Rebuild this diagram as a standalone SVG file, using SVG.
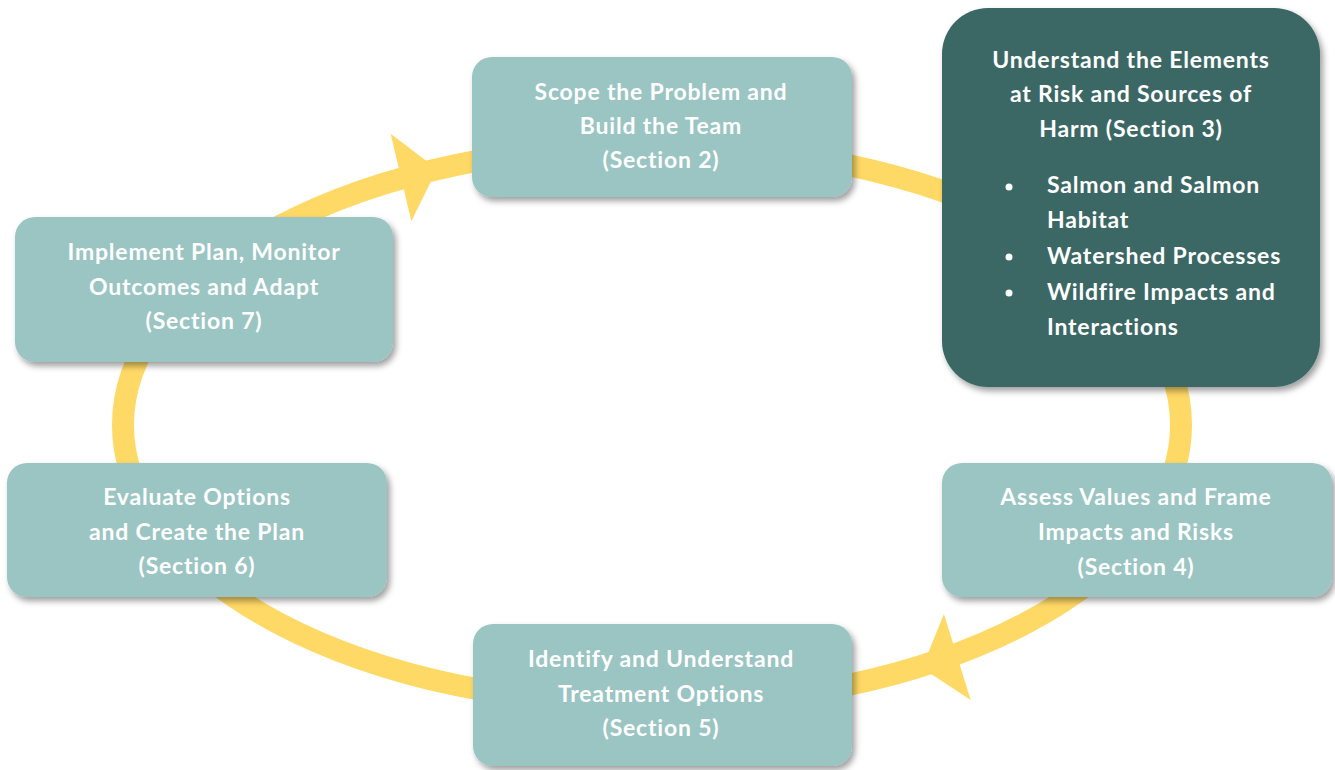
<svg xmlns="http://www.w3.org/2000/svg" width="1335" height="770" viewBox="0 0 1335 770">
  <defs>
    <filter id="shadow" x="-10%" y="-10%" width="125%" height="130%">
      <feDropShadow dx="3" dy="4" stdDeviation="3" flood-color="#000" flood-opacity="0.38"/>
    </filter>
    <!-- triangular arrowhead, tip at the origin pointing along +x -->
    <polygon id="head" points="0,0 -37,-45 -37,45"/>
  </defs>
  <style>
    .ring { fill: none; stroke: #FFD966; stroke-width: 22; }
    .head { fill: #FFD966; }
    .box { fill: #9AC5C3; filter: url(#shadow); }
    .box-dark { fill: #3B6865; filter: url(#shadow); }
    text { font-family: Lato, "Open Sans", "Liberation Sans", sans-serif; font-weight: 700; font-size: 23px; letter-spacing: 0.8px; fill: #FFFFFF; }
    .c { text-anchor: middle; }
  </style>
  <rect width="1335" height="770" fill="#FFFFFF"/>

  <!-- cycle ring with direction arrows -->
  <g id="connectors">
    <ellipse class="ring" cx="652" cy="425" rx="529" ry="280"/>
    <use href="#head" class="head" transform="translate(437,169) rotate(-13.3)"/>
    <use href="#head" class="head" transform="translate(922,668) rotate(162.7)"/>
  </g>

  <g id="scope">
    <rect class="box" x="472" y="57" width="380" height="140" rx="20"/>
    <text class="c" x="661" y="100">Scope the Problem and</text>
    <text class="c" x="661" y="134">Build the Team</text>
    <text class="c" x="661" y="168">(Section 2)</text>
  </g>

  <g id="understand">
    <rect class="box-dark" x="942" y="8" width="378" height="379" rx="46"/>
    <text class="c" x="1131" y="68">Understand the Elements</text>
    <text class="c" x="1131" y="102">at Risk and Sources of</text>
    <text class="c" x="1131" y="137">Harm (Section 3)</text>
    <circle cx="1009" cy="187" r="3.5" fill="#FFFFFF"/>
    <circle cx="1009" cy="257" r="3.5" fill="#FFFFFF"/>
    <circle cx="1009" cy="293" r="3.5" fill="#FFFFFF"/>
    <text x="1047" y="193">Salmon and Salmon</text>
    <text x="1047" y="228">Habitat</text>
    <text x="1047" y="264">Watershed Processes</text>
    <text x="1047" y="300">Wildfire Impacts and</text>
    <text x="1047" y="335">Interactions</text>
  </g>

  <g id="assess">
    <rect class="box" x="942" y="463" width="390" height="134" rx="20"/>
    <text class="c" x="1136" y="505">Assess Values and Frame</text>
    <text class="c" x="1136" y="540">Impacts and Risks</text>
    <text class="c" x="1136" y="575">(Section 4)</text>
  </g>

  <g id="identify">
    <rect class="box" x="473" y="624" width="379" height="142" rx="20"/>
    <text class="c" x="661" y="667">Identify and Understand</text>
    <text class="c" x="661" y="702">Treatment Options</text>
    <text class="c" x="661" y="736">(Section 5)</text>
  </g>

  <g id="evaluate">
    <rect class="box" x="7" y="463" width="380" height="134" rx="20"/>
    <text class="c" x="197" y="505">Evaluate Options</text>
    <text class="c" x="197" y="540">and Create the Plan</text>
    <text class="c" x="197" y="574">(Section 6)</text>
  </g>

  <g id="implement">
    <rect class="box" x="15" y="217" width="378" height="145" rx="20"/>
    <text class="c" x="204" y="260">Implement Plan, Monitor</text>
    <text class="c" x="204" y="295">Outcomes and Adapt</text>
    <text class="c" x="204" y="329">(Section 7)</text>
  </g>
</svg>
